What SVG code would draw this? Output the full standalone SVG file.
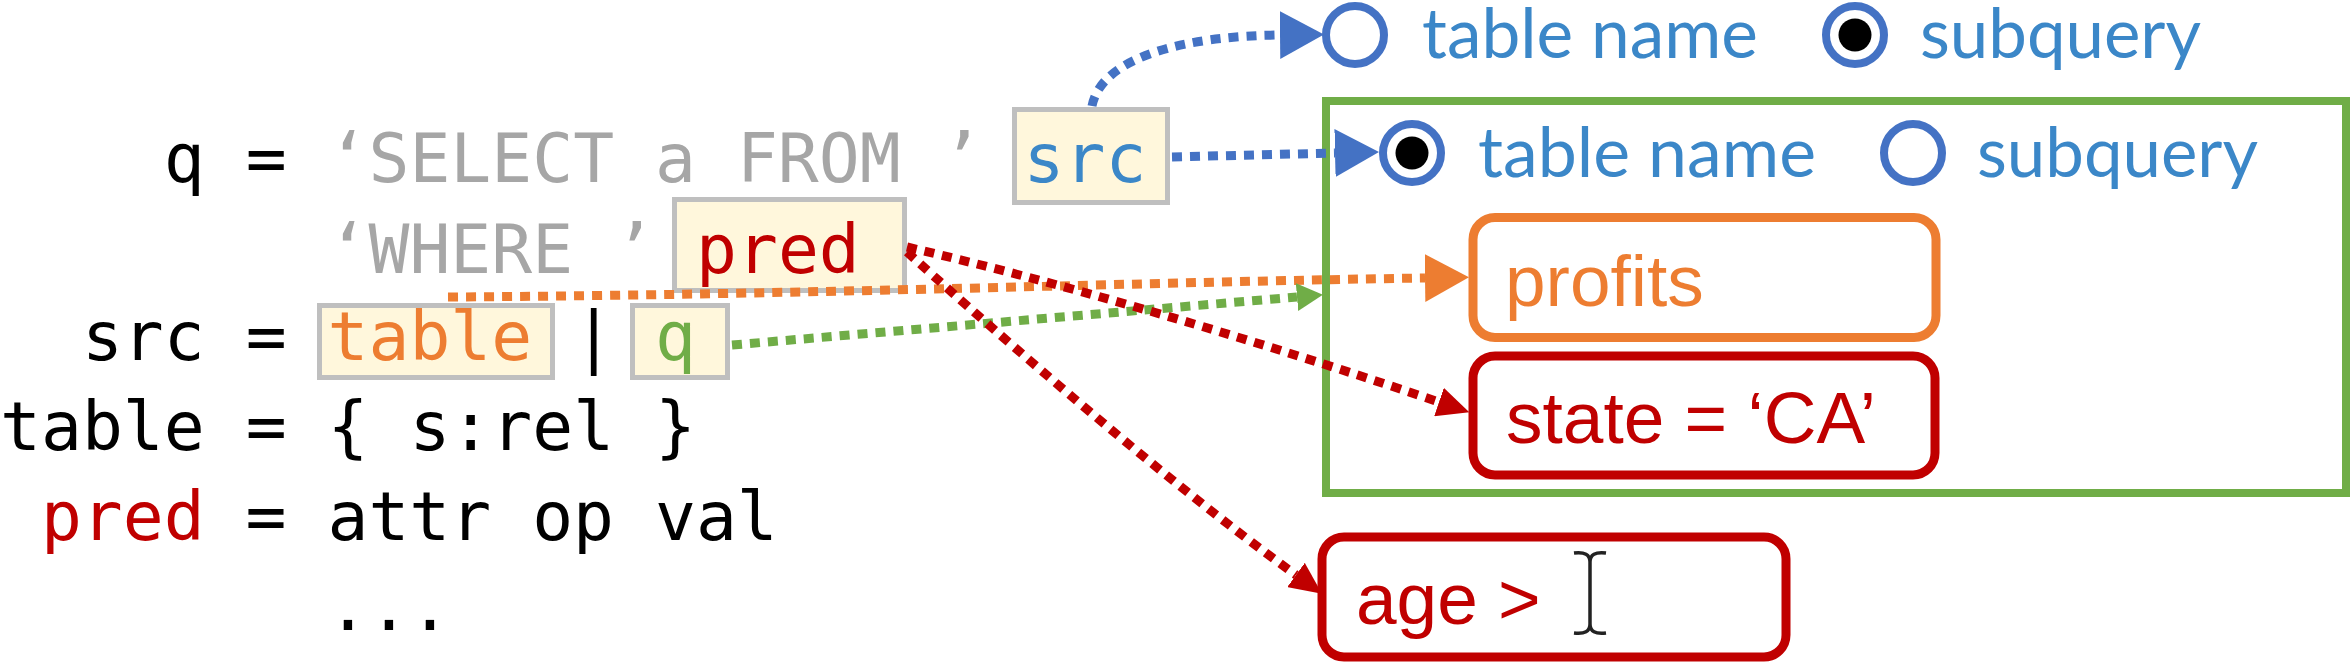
<svg xmlns="http://www.w3.org/2000/svg" width="2352" height="662" viewBox="0 0 2352 662">
<style>
.code{font-family:"DejaVu Sans Mono",monospace;font-size:68px}
.blk{fill:#000}.gry{fill:#a6a6a6}.red{fill:#c00000}.blu{fill:#3b87c8}.org{fill:#ed7d31}.grn{fill:#70ad47}
.hole{fill:#fff7dc;stroke:#bfbfbf;stroke-width:5}
.lbl{font-family:Lato,"Open Sans",sans-serif;font-size:70px;fill:#3b87c8}
.ring{fill:#fff;stroke:#4472c4;stroke-width:8}
.opt{font-family:"Liberation Sans",Arial,sans-serif;font-size:73px}
.dot{fill:none;stroke-width:9;stroke-dasharray:10 8}
</style>
<defs>
<marker id="aBlue" markerUnits="userSpaceOnUse" viewBox="0 0 44 48" refX="0" refY="24" markerWidth="44" markerHeight="48" orient="auto"><path d="M0,0L44,24L0,48z" fill="#4472c4"/></marker>
<marker id="aOrg" markerUnits="userSpaceOnUse" viewBox="0 0 44 48" refX="0" refY="24" markerWidth="44" markerHeight="48" orient="auto"><path d="M0,0L44,24L0,48z" fill="#ed7d31"/></marker>
<marker id="aRed" markerUnits="userSpaceOnUse" viewBox="0 0 32 30" refX="0" refY="15" markerWidth="32" markerHeight="30" orient="auto"><path d="M0,0L32,15L0,30z" fill="#c00000"/></marker>
<marker id="aGrn" markerUnits="userSpaceOnUse" viewBox="0 0 26 28" refX="0" refY="14" markerWidth="26" markerHeight="28" orient="auto"><path d="M0,0L26,14L0,28z" fill="#70ad47"/></marker>
</defs>

<g id="grammar">
<text class="code" y="182"><tspan x="163.8" class="blk">q =</tspan><tspan x="327.5" class="gry">‘SELECT a FROM ’</tspan></text>
<text class="code gry" x="327.5" y="273">‘WHERE ’</text>
<text class="code blk" x="81.9" y="360">src =</text>
<text class="code blk" x="573.2" y="360">|</text>
<text class="code blk" x="0" y="450">table = { s:rel }</text>
<text class="code red" x="40.9" y="540">pred</text>
<text class="code blk" x="245.6" y="540">= attr op val</text>
<text class="code blk" x="327.5" y="630">...</text>
</g>

<g id="hole-src">
<rect class="hole" x="1014.5" y="109.5" width="153" height="93"/>
<text class="code blu" x="1023.5" y="182">src</text>
</g>
<g id="hole-pred">
<rect class="hole" x="674.5" y="199.5" width="230" height="91"/>
<text class="code red" x="696" y="273">pred</text>
</g>
<g id="hole-table">
<rect class="hole" x="319.5" y="305.5" width="233" height="72"/>
<text class="code org" x="327.5" y="360">table</text>
</g>
<g id="hole-q">
<rect class="hole" x="632.5" y="305.5" width="95" height="72"/>
<text class="code grn" x="655" y="360">q</text>
</g>

<g id="radio-top">
<circle class="ring" cx="1355" cy="35" r="29"/>
<text class="lbl" x="1422" y="58" textLength="336" lengthAdjust="spacingAndGlyphs">table name</text>
<circle class="ring" cx="1855" cy="35" r="29"/>
<circle cx="1855" cy="35" r="16.5" fill="#000"/>
<text class="lbl" x="1920" y="58" textLength="281" lengthAdjust="spacingAndGlyphs">subquery</text>
</g>

<g id="table-panel">
<rect x="1326" y="101" width="1020" height="392" fill="none" stroke="#70ad47" stroke-width="8"/>
<circle class="ring" cx="1412" cy="153" r="29"/>
<circle cx="1412" cy="153" r="16.5" fill="#000"/>
<text class="lbl" x="1478" y="177" textLength="338" lengthAdjust="spacingAndGlyphs">table name</text>
<circle class="ring" cx="1913" cy="153" r="29"/>
<text class="lbl" x="1977" y="177" textLength="281" lengthAdjust="spacingAndGlyphs">subquery</text>
</g>

<g id="box-profits">
<rect x="1473" y="217.5" width="463" height="120" rx="22" fill="#fff" stroke="#ed7d31" stroke-width="9"/>
<text class="opt org" x="1505" y="306">profits</text>
</g>
<g id="box-state">
<rect x="1473" y="356" width="462" height="119" rx="22" fill="#fff" stroke="#c00000" stroke-width="9"/>
<text class="opt red" x="1506" y="443">state = ‘CA’</text>
</g>
<g id="box-age">
<rect x="1322" y="537" width="464" height="120" rx="22" fill="#fff" stroke="#c00000" stroke-width="9"/>
<text class="opt red" x="1356" y="624">age &gt;</text>
<path d="M1574,553Q1590,551 1590,562V624Q1590,635 1574,633M1606,553Q1590,551 1590,562M1606,633Q1590,635 1590,624" fill="none" stroke="#222" stroke-width="3.5"/>
</g>

<g id="connectors">
<path class="dot" stroke="#4472c4" d="M1092,106C1102,55 1190,36 1280,35" marker-end="url(#aBlue)"/>
<path class="dot" stroke="#4472c4" d="M1172,157L1335,153" marker-end="url(#aBlue)"/>
<path class="dot" stroke="#ed7d31" d="M448,297C800,295 1150,282 1425,278" marker-end="url(#aOrg)"/>
<path class="dot" stroke="#70ad47" d="M732,345L1297,297" marker-end="url(#aGrn)"/>
<path class="dot" stroke="#c00000" d="M907,247C1100,292 1300,355 1439,402" marker-end="url(#aRed)"/>
<path class="dot" stroke="#c00000" d="M907,252C960,300 1150,470 1296,575" marker-end="url(#aRed)"/>
</g>
</svg>
